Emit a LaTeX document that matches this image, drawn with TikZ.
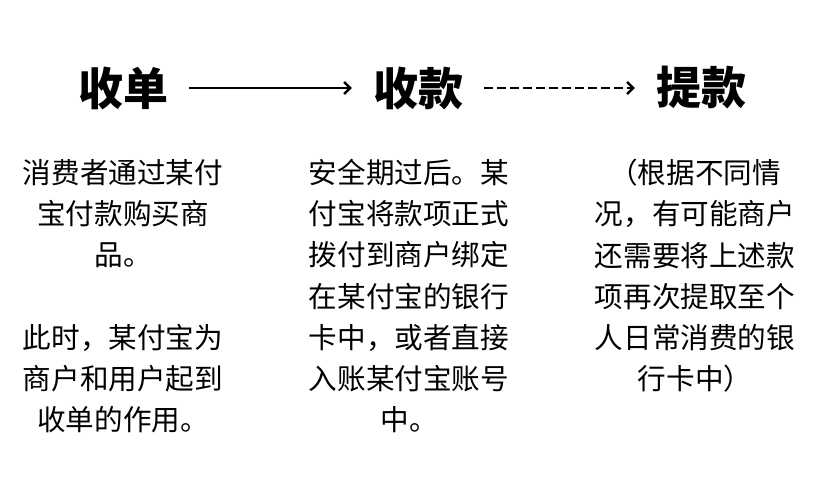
\documentclass[tikz,border=0pt]{standalone}
\usepackage{fontspec}
\newfontfamily\cjk{Noto Sans CJK SC}
\usetikzlibrary{arrows.meta}

\begin{document}
\begin{tikzpicture}[x=1pt,y=-1pt,
	title/.style={font=\cjk\bfseries\fontsize{45}{45}\selectfont,inner sep=0pt},
	para/.style={font=\cjk\fontsize{28.6}{41.2}\selectfont,align=center,anchor=north,inner sep=0pt},
	flow/.style={line width=2.5pt,-{Straight Barb[length=6pt,width=12pt]},shorten <=21pt,shorten >=21pt}]
	\useasboundingbox (0,0) rectangle (813,498);
	\node[title] (shoudan) at (123,88) {收单};
	\node[title] (shoukuan) at (418,88) {收款};
	\node[title] (tikuan) at (701,88) {提款};
	\draw[flow] (shoudan) -- (shoukuan);
	\draw[flow,dash pattern=on 9pt off 4pt] (shoukuan) -- (tikuan);
	\node[para] (left) at (123,159) {消费者通过某付\\宝付款购买商\\品。\\~\\此时，某付宝为\\商户和用户起到\\收单的作用。};
	\node[para] (mid) at (409,159) {安全期过后。某\\付宝将款项正式\\拨付到商户绑定\\在某付宝的银行\\卡中，或者直接\\入账某付宝账号\\中。};
	\node[para] (right) at (695,159) {（根据不同情\\况，有可能商户\\还需要将上述款\\项再次提取至个\\人日常消费的银\\行卡中）};
\end{tikzpicture}
\end{document}
